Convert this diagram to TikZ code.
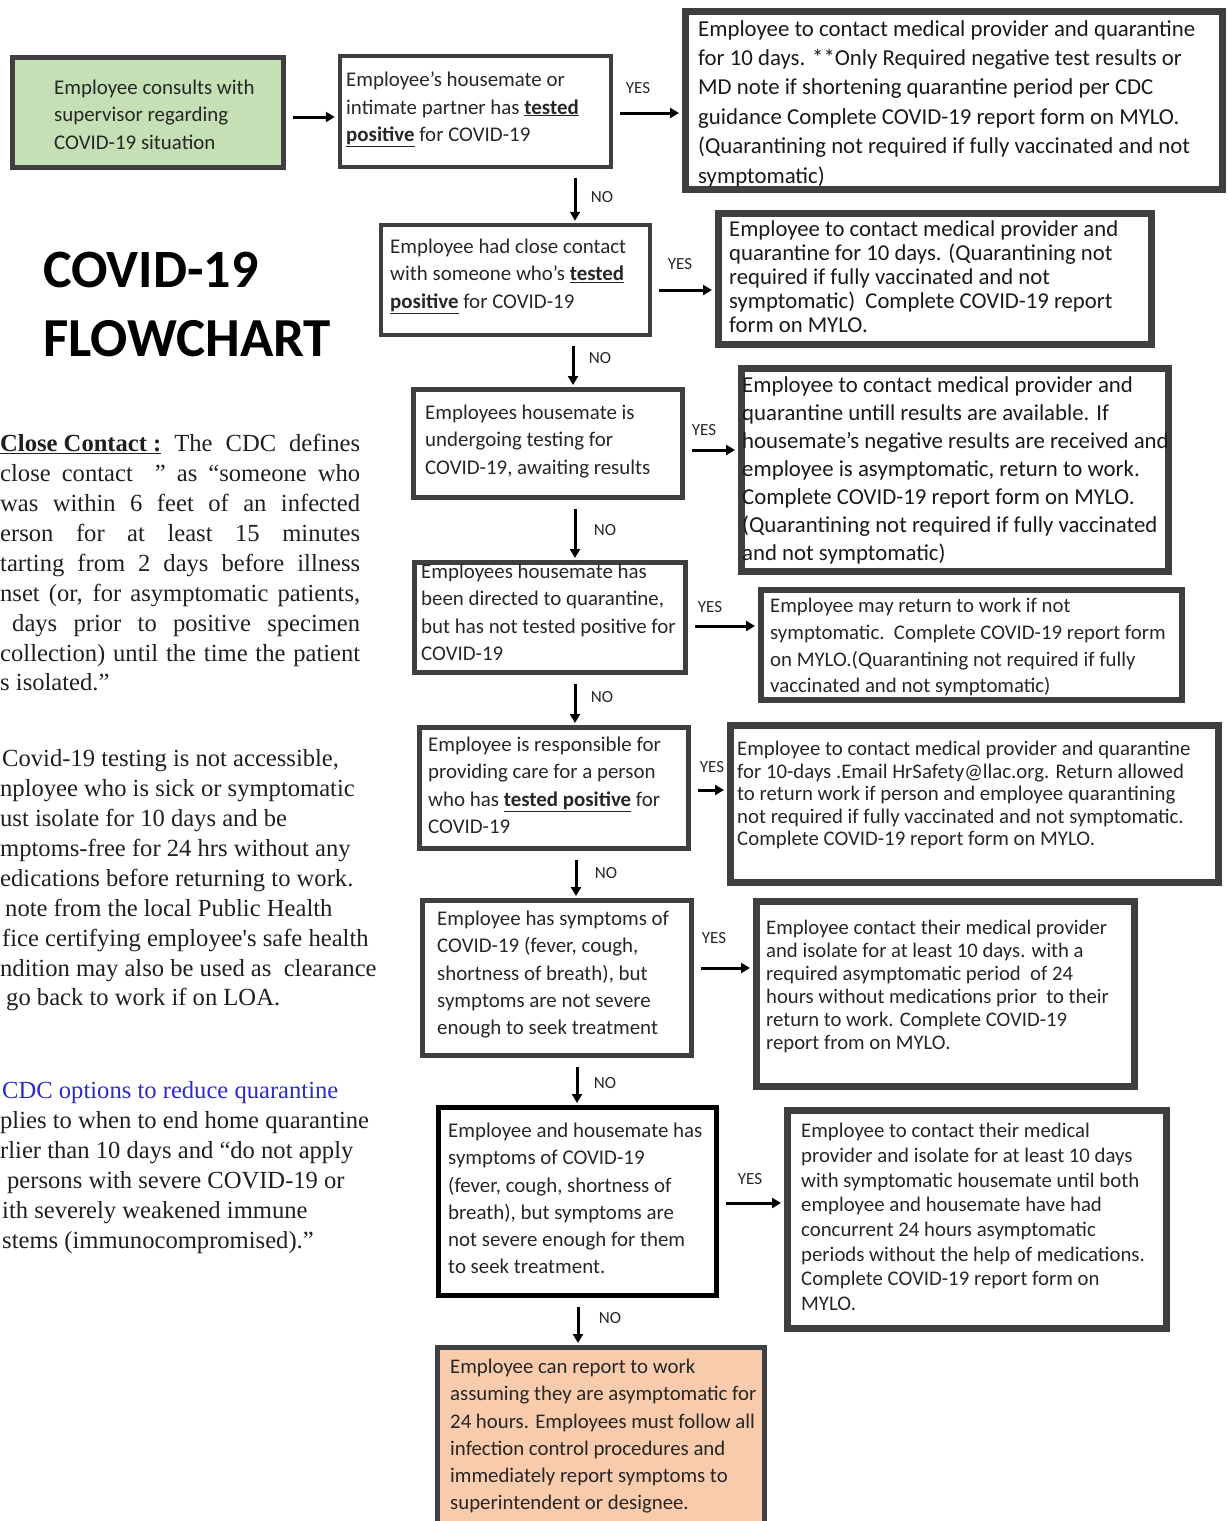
\documentclass[tikz,border=0pt]{standalone}
\usepackage{fontspec}
\setmainfont{Carlito}
\newfontfamily\serifx{Liberation Serif}
\usetikzlibrary{arrows.meta,calc}
\definecolor{boxgray}{HTML}{3F3F3F}
\definecolor{txtgray}{HTML}{262626}
\definecolor{greenfill}{HTML}{C5E0B4}
\definecolor{peach}{HTML}{F8CBAD}
\definecolor{cdcblue}{HTML}{2B2BC8}
\begin{document}
\begin{tikzpicture}[x=1pt,y=-1pt,
 box/.style={draw=boxgray, line width=4.5pt, rectangle, inner sep=0pt},
 rbox/.style={box, line width=7pt},
 txt/.style={anchor=north west, inner sep=0pt, align=left, text=txtgray},
 qf/.style={font=\fontsize{20.9}{27.2}\selectfont},
 arr/.style={line width=3pt, -{Triangle[length=9pt,width=10pt]}},
 harr/.style={arr, shorten <=7pt, shorten >=3pt},
 varr/.style={arr, shorten <=9pt, shorten >=2pt},
 lab/.style={font=\fontsize{17}{20}\selectfont, text=txtgray, inner sep=0pt},
 side/.style={anchor=base west, inner sep=0pt, font=\serifx\fontsize{24.6}{28}\selectfont, text=black!88}]
\useasboundingbox (0,0) rectangle (1228,1521);
\clip (0,0) rectangle (1228,1521);

% ---------- boxes ----------
\node[box, line width=5pt, fill=greenfill, minimum width=271pt, minimum height=110pt] (start) at (148,112.5) {};
\node[box, minimum width=271pt, minimum height=111pt] (q1) at (475.5,111.5) {};
\node[rbox, minimum width=537pt, minimum height=178pt] (r1) at (954,100.5) {};
\node[box, minimum width=269pt, minimum height=110pt] (q2) at (515.5,280) {};
\node[rbox, minimum width=433pt, minimum height=131pt] (r2) at (935,279) {};
\node[box, line width=5pt, minimum width=269pt, minimum height=108pt] (q3) at (548,443.5) {};
\node[rbox, minimum width=427pt, minimum height=203pt] (r3) at (955,470) {};
\node[box, line width=5pt, minimum width=271pt, minimum height=110pt] (q4) at (550,617.5) {};
\node[rbox, line width=6pt, minimum width=421pt, minimum height=110pt] (r4) at (971.5,645) {};
\node[box, line width=5pt, minimum width=269pt, minimum height=121pt] (q5) at (554,788) {};
\node[rbox, minimum width=488pt, minimum height=157pt] (r5) at (974.5,804) {};
\node[box, line width=5pt, minimum width=269pt, minimum height=155pt] (q6) at (557,978) {};
\node[rbox, minimum width=378pt, minimum height=185pt] (r6) at (945.5,994) {};
\node[box, draw=black, line width=5pt, minimum width=278pt, minimum height=188pt] (q7) at (577.5,1201.5) {};
\node[rbox, minimum width=379pt, minimum height=218pt] (r7) at (977,1219.5) {};
\node[box, line width=5pt, fill=peach, minimum width=327pt, minimum height=190pt] (fin) at (601,1442.5) {};

% ---------- box texts ----------
\node[txt, qf] (tstart) at (54,80) {Employee consults with\\supervisor regarding\\COVID-19 situation};
\node[txt, qf] (tq1) at (346,72) {Employee’s housemate or\\intimate partner has \underline{\textbf{tested}}\\\underline{\textbf{positive}} for COVID-19};
\node[txt, font=\fontsize{22.8}{29.4}\selectfont, text=black!90] (tr1) at (698,20) {Employee to contact medical provider and quarantine\\for 10 days. **Only Required negative test results or\\MD note if shortening quarantine period per CDC\\guidance Complete COVID-19 report form on MYLO.\\(Quarantining not required if fully vaccinated and not\\symptomatic)};
\node[txt, qf] (tq2) at (390,239) {Employee had close contact\\with someone who’s \underline{\textbf{tested}}\\\underline{\textbf{positive}} for COVID-19};
\node[txt, font=\fontsize{22.7}{23.8}\selectfont, text=black!90] (tr2) at (729,221) {Employee to contact medical provider and\\quarantine for 10 days. (Quarantining not\\required if fully vaccinated and not\\symptomatic)\ \ Complete COVID-19 report\\form on MYLO.};
\node[txt, qf] (tq3) at (425,405) {Employees housemate is\\undergoing testing for\\COVID-19, awaiting results};
\node[txt, font=\fontsize{22.8}{28}\selectfont, text=black!90] (tr3) at (742,376) {Employee to contact medical provider and\\quarantine untill results are available. If\\housemate's negative results are received and\\employee is asymptomatic, return to work.\\Complete COVID-19 report form on MYLO.\\(Quarantining not required if fully vaccinated\\and not symptomatic)};
\node[txt, qf] (tq4) at (421,564) {Employees housemate has\\been directed to quarantine,\\but has not tested positive for\\COVID-19};
\node[txt, font=\fontsize{20.8}{26.7}\selectfont] (tr4) at (770,598) {Employee may return to work if not\\symptomatic.\ \ Complete COVID-19 report form\\on MYLO.(Quarantining not required if fully\\vaccinated and not symptomatic)};
\node[txt, qf] (tq5) at (428,737) {Employee is responsible for\\providing care for a person\\who has \underline{\textbf{tested positive}} for\\COVID-19};
\node[txt, font=\fontsize{20.8}{22.5}\selectfont] (tr5) at (737,741) {Employee to contact medical provider and quarantine\\for 10-days .Email HrSafety@llac.org. Return allowed\\to return work if person and employee quarantining\\not required if fully vaccinated and not symptomatic.\\Complete COVID-19 report form on MYLO.};
\node[txt, qf] (tq6) at (437,911) {Employee has symptoms of\\COVID-19 (fever, cough,\\shortness of breath), but\\symptoms are not severe\\enough to seek treatment};
\node[txt, font=\fontsize{20.7}{23}\selectfont] (tr6) at (766,920) {Employee contact their medical provider\\and isolate for at least 10 days. with a\\required asymptomatic period\ \ of 24\\hours without medications prior\ \ to their\\return to work. Complete COVID-19\\report from on MYLO.};
\node[txt, qf] (tq7) at (448,1123) {Employee and housemate has\\symptoms of COVID-19\\(fever, cough, shortness of\\breath), but symptoms are\\not severe enough for them\\to seek treatment.};
\node[txt, font=\fontsize{20.8}{24.7}\selectfont] (tr7) at (801,1123) {Employee to contact their medical\\provider and isolate for at least 10 days\\with symptomatic housemate until both\\employee and housemate have had\\concurrent 24 hours asymptomatic\\periods without the help of medications.\\Complete COVID-19 report form on\\MYLO.};
\node[txt, font=\fontsize{20.8}{27.2}\selectfont] (tfin) at (450,1359) {Employee can report to work\\assuming they are asymptomatic for\\24 hours. Employees must follow all\\infection control procedures and\\immediately report symptoms to\\superintendent or designee.};

% ---------- connectors ----------
\draw[harr] (start.east |- 0,117) -- (q1.west |- 0,117);
\draw[harr] (q1.east |- 0,113) -- (r1.west |- 0,113);
\draw[varr] (575,0 |- q1.south) -- (575,0 |- q2.north);
\draw[harr] (q2.east |- 0,290) -- (r2.west |- 0,290);
\draw[varr] (573,0 |- q2.south) -- (573,0 |- q3.north);
\draw[harr] (q3.east |- 0,450) -- (r3.west |- 0,450);
\draw[varr] (575,0 |- q3.south) -- (575,0 |- q4.north);
\draw[harr] (q4.east |- 0,626) -- (r4.west |- 0,626);
\draw[varr] (575,0 |- q4.south) -- (575,0 |- q5.north);
\draw[harr] (q5.east |- 0,790) -- (r5.west |- 0,790);
\draw[varr] (576,0 |- q5.south) -- (576,0 |- q6.north);
\draw[harr] (q6.east |- 0,968) -- (r6.west |- 0,968);
\draw[varr] (577,0 |- q6.south) -- (577,0 |- q7.north);
\draw[harr] (q7.east |- 0,1203) -- (r7.west |- 0,1203);
\draw[varr] (578,0 |- q7.south) -- (578,0 |- fin.north);

% ---------- labels ----------
\node[lab] (y1) at (638,88) {YES};
\node[lab] (n1) at (602,197) {NO};
\node[lab] (y2) at (680,264) {YES};
\node[lab] (n2) at (600,358) {NO};
\node[lab] (y3) at (704,430) {YES};
\node[lab] (n3) at (605,530) {NO};
\node[lab] (y4) at (710,607) {YES};
\node[lab] (n4) at (602,697) {NO};
\node[lab] (y5) at (712,767) {YES};
\node[lab] (n5) at (606,873) {NO};
\node[lab] (y6) at (714,938) {YES};
\node[lab] (n6) at (605,1083) {NO};
\node[lab] (y7) at (750,1179) {YES};
\node[lab] (n7) at (610,1318) {NO};

% ---------- title ----------
\node[anchor=base west, inner sep=0pt, font=\bfseries\fontsize{54}{60}\selectfont] (title1) at (43,287) {COVID-19};
\node[anchor=base west, inner sep=0pt, font=\bfseries\fontsize{55}{60}\selectfont] (title2) at (43,356) {FLOWCHART};

% ---------- side notes ----------
\node[side] (a1) at (0,451) {\makebox[360pt][s]{\underline{\textbf{Close Contact :}} The CDC defines}};
\node[side] (a2) at (0,481) {\makebox[360pt][s]{close contact \ ” as “someone who}};
\node[side] (a3) at (0,511) {\makebox[360pt][s]{was within 6 feet of an infected}};
\node[side] (a4) at (0,541) {\makebox[360pt][s]{erson for at least 15 minutes}};
\node[side] (a5) at (0,571) {\makebox[360pt][s]{tarting from 2 days before illness}};
\node[side] (a6) at (0,601) {\makebox[360pt][s]{nset (or, for asymptomatic patients,}};
\node[side] (a7) at (12,631) {\makebox[348pt][s]{days prior to positive specimen}};
\node[side] (a8) at (0,661) {\makebox[360pt][s]{collection) until the time the patient}};
\node[side] (a9) at (0,690) {s isolated.”};

\node[side] (b1) at (2,766) {Covid-19 testing is not accessible,};
\node[side] (b2) at (0,796) {nployee who is sick or symptomatic};
\node[side] (b3) at (0,826) {ust isolate for 10 days and be};
\node[side] (b4) at (0,856) {mptoms-free for 24 hrs without any};
\node[side] (b5) at (0,886) {edications before returning to work.};
\node[side] (b6) at (5,916) {note from the local Public Health};
\node[side] (b7) at (2,946) {fice certifying employee's safe health};
\node[side] (b8) at (0,976) {ndition may also be used as \ clearance};
\node[side] (b9) at (6,1005) {go back to work if on LOA.};

\node[side, text=cdcblue] (c1) at (2,1098) {CDC options to reduce quarantine};
\node[side] (c2) at (0,1128) {plies to when to end home quarantine};
\node[side] (c3) at (0,1158) {rlier than 10 days and “do not apply};
\node[side] (c4) at (7,1188) {persons with severe COVID-19 or};
\node[side] (c5) at (2,1218) {ith severely weakened immune};
\node[side] (c6) at (2,1248) {stems (immunocompromised).”};
\end{tikzpicture}
\end{document}
